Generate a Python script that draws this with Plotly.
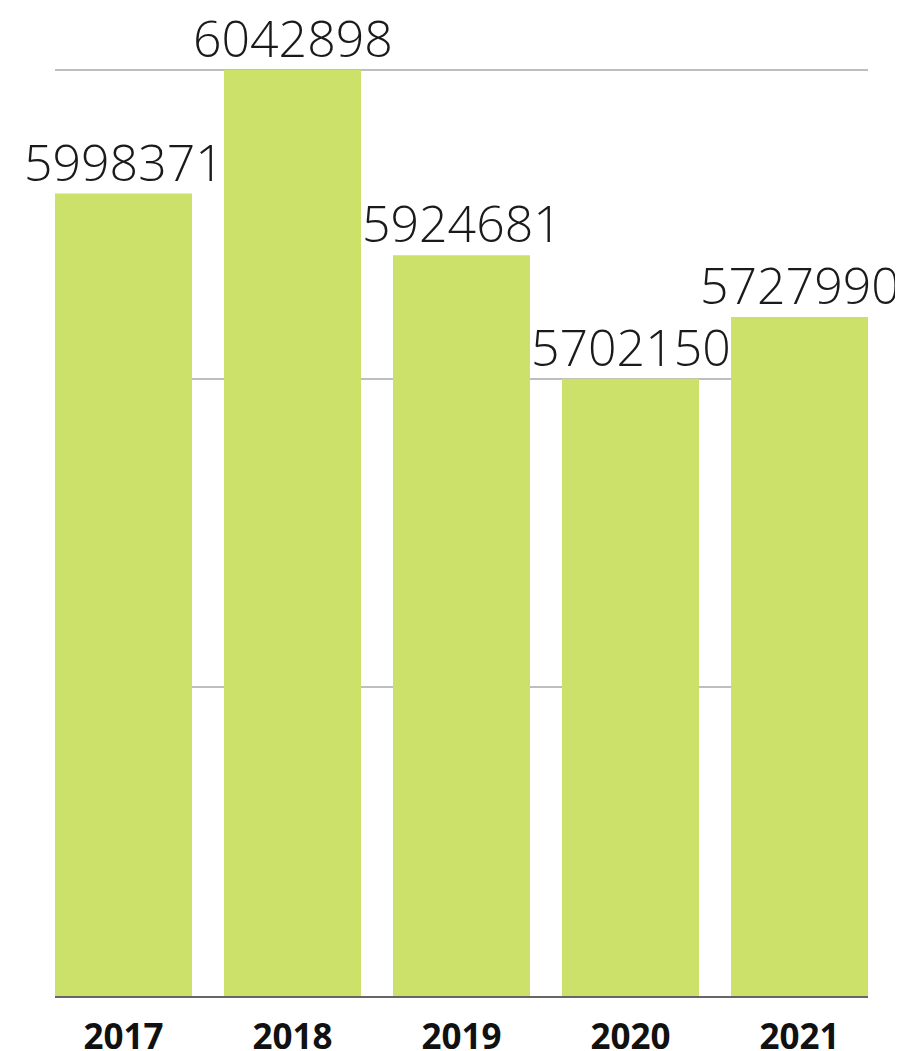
import plotly.graph_objects as go

years = ["2017", "2018", "2019", "2020", "2021"]
labels = ["5998371", "6042898", "5924681", "5702150", "5727990"]
# bar heights as drawn in the picture (grid units, gridlines at 0, 1, 2, 3)
heights = [2.6, 3.0, 2.4, 2.0, 2.2]

bar_color = "#CBE16A"
gap = 32 / 169

fig = go.Figure(
    go.Bar(
        x=years,
        y=heights,
        marker=dict(color=bar_color, line=dict(width=0)),
        hoverinfo="skip",
    )
)

for i, (h, lab) in enumerate(zip(heights, labels)):
    fig.add_annotation(
        x=i,
        y=h,
        xref="x",
        yref="y",
        text=lab,
        showarrow=False,
        xanchor="center",
        yanchor="bottom",
        yshift=-4,
        font=dict(family="Open Sans", size=50, color="#1a1a1a", weight=300),
    )

fig.update_layout(
    width=895,
    height=1043,
    margin=dict(l=47, r=35, t=59, b=55, autoexpand=False),
    plot_bgcolor="white",
    paper_bgcolor="white",
    bargap=gap,
    showlegend=False,
)
fig.update_xaxes(
    type="category",
    range=[-0.5 + gap / 2, 4.5 - gap / 2],
    showgrid=False,
    showline=True,
    linecolor="#666666",
    linewidth=2,
    ticks="outside",
    ticklen=9,
    tickcolor="rgba(0,0,0,0)",
    tickfont=dict(family="Open Sans", size=35, color="#111111", weight=700),
    automargin=False,
)
fig.update_yaxes(
    range=[0, 3.01],
    dtick=1,
    tick0=0,
    showgrid=True,
    gridcolor="#BEBEBE",
    gridwidth=2,
    zeroline=False,
    showticklabels=False,
    showline=False,
    automargin=False,
)

fig.write_html("out.html")
